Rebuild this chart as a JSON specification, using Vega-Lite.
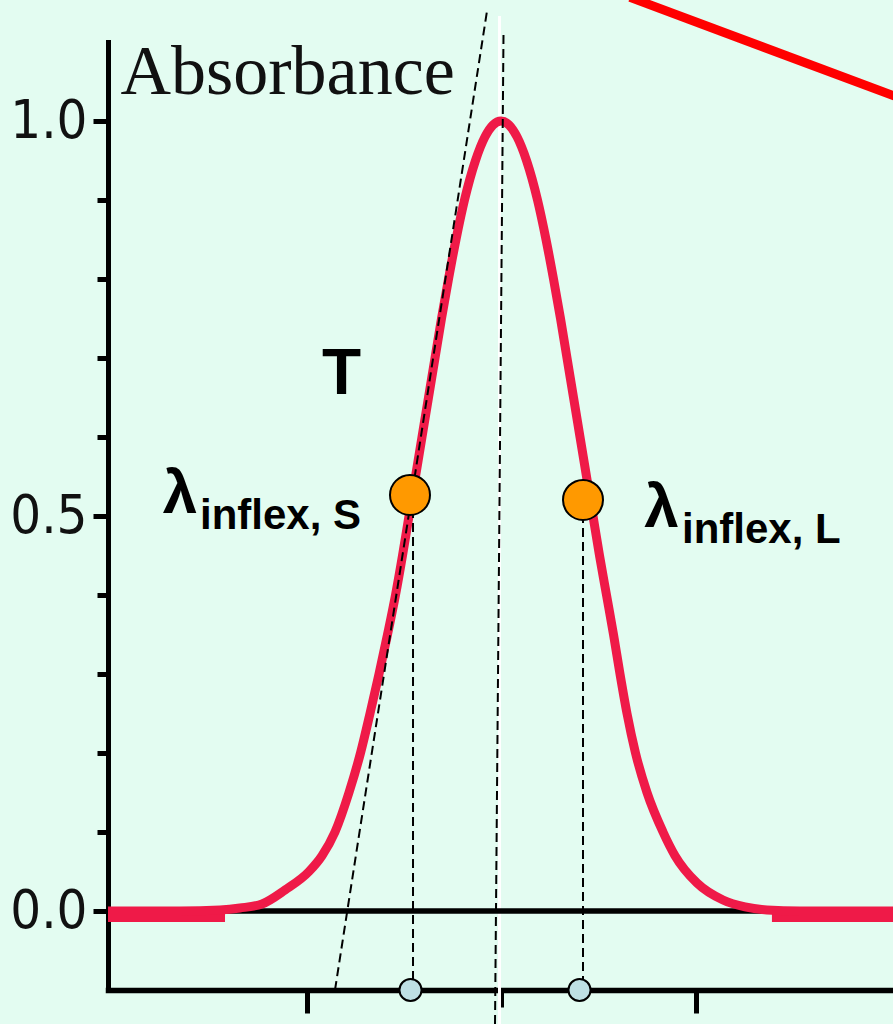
{
  "$schema": "https://vega.github.io/schema/vega-lite/v6.json",
  "width": 785,
  "height": 948,
  "autosize": {"type": "none"},
  "padding": {"left": 108, "top": 42, "right": 0, "bottom": 34},
  "background": "#e3fcf1",
  "config": {"view": {"stroke": null}},
  "datasets": {
    "curve": [
      {"x": -2.0206, "y": 0}, {"x": -1.6504, "y": 0}, {"x": -1.4447, "y": 0.0013},
      {"x": -1.3419, "y": 0.0038}, {"x": -1.2288, "y": 0.0089}, {"x": -1.1105, "y": 0.0266},
      {"x": -0.9871, "y": 0.05}, {"x": -0.9203, "y": 0.07},
      {"x": -0.8535, "y": 0.1}, {"x": -0.7815, "y": 0.15}, {"x": -0.7224, "y": 0.2},
      {"x": -0.6735, "y": 0.25}, {"x": -0.6272, "y": 0.3}, {"x": -0.5835, "y": 0.35},
      {"x": -0.5424, "y": 0.4}, {"x": -0.5064, "y": 0.45}, {"x": -0.473, "y": 0.5},
      {"x": -0.4396, "y": 0.55}, {"x": -0.4062, "y": 0.6}, {"x": -0.3728, "y": 0.65},
      {"x": -0.3393, "y": 0.7}, {"x": -0.3059, "y": 0.75}, {"x": -0.2699, "y": 0.8},
      {"x": -0.2314, "y": 0.85}, {"x": -0.1877, "y": 0.9}, {"x": -0.1311, "y": 0.95},
      {"x": -0.0823, "y": 0.98}, {"x": -0.0411, "y": 0.995}, {"x": 0, "y": 1.0},
      {"x": 0.0411, "y": 0.995}, {"x": 0.0823, "y": 0.98}, {"x": 0.1311, "y": 0.95},
      {"x": 0.1877, "y": 0.9}, {"x": 0.2314, "y": 0.85}, {"x": 0.2699, "y": 0.8},
      {"x": 0.3059, "y": 0.75}, {"x": 0.3393, "y": 0.7}, {"x": 0.3728, "y": 0.65},
      {"x": 0.4062, "y": 0.6}, {"x": 0.4396, "y": 0.55}, {"x": 0.473, "y": 0.5},
      {"x": 0.5064, "y": 0.45}, {"x": 0.5424, "y": 0.4}, {"x": 0.5784, "y": 0.35},
      {"x": 0.6118, "y": 0.3}, {"x": 0.6478, "y": 0.25}, {"x": 0.6915, "y": 0.2},
      {"x": 0.7506, "y": 0.15}, {"x": 0.8329, "y": 0.1}, {"x": 0.8946, "y": 0.07},
      {"x": 1.0077, "y": 0.0354}, {"x": 1.1414, "y": 0.0139}, {"x": 1.2545, "y": 0.0051},
      {"x": 1.3676, "y": 0.0013}, {"x": 1.5373, "y": 0}, {"x": 2.0154, "y": 0}
    ],
    "tails": [
      {"id": "L", "x": -2.0206, "y": -0.009}, {"id": "L", "x": -1.419, "y": -0.009},
      {"id": "R", "x": 1.393, "y": -0.009}, {"id": "R", "x": 2.0154, "y": -0.009}
    ],
    "baseline": [{"x": -2.0206, "y": 0}, {"x": 2.0154, "y": 0}],
    "white": [{"x": -0.0077, "y": 1.1329}, {"x": -0.0077, "y": -0.15}],
    "dashes": [
      {"id": "t", "x": -0.072, "y": 1.1392}, {"id": "t", "x": -0.8535, "y": -0.1},
      {"id": "m", "x": 0.0129, "y": 1.1114}, {"id": "m", "x": -0.0308, "y": -0.143},
      {"id": "l", "x": -0.4524, "y": 0.5266}, {"id": "l", "x": -0.4524, "y": -0.1},
      {"id": "r", "x": 0.4216, "y": 0.5203}, {"id": "r", "x": 0.4216, "y": -0.1}
    ],
    "redline": [{"x": 0.6632, "y": 1.1565}, {"x": 2.0514, "y": 1.029}],
    "orange": [{"x": -0.4679, "y": 0.5266}, {"x": 0.4216, "y": 0.5203}],
    "blue": [{"x": -0.4653, "y": -0.1}, {"x": 0.4036, "y": -0.1}],
    "tlabel": [{"x": -0.8201, "y": 0.6544, "t": "T"}],
    "lambda": [{"x": -1.6504, "y": 0.5038, "t": "λ"}, {"x": 0.8252, "y": 0.4861, "t": "λ"}],
    "subs": [{"x": -1.5476, "y": 0.4835, "t": "inflex, S"}, {"x": 0.9306, "y": 0.4658, "t": "inflex, L"}]
  },
  "encoding": {
    "x": {
      "field": "x", "type": "quantitative",
      "scale": {"domain": [-2.0206, 2.0154], "nice": false, "zero": false},
      "axis": {
        "values": [-1, 0, 1], "labels": false, "title": null, "grid": false,
        "domainColor": "#000", "domainWidth": 5.5, "domainCap": "square",
        "tickColor": "#000", "tickWidth": 5,
        "tickSize": {"condition": {"test": "datum.value == 0", "value": 17}, "value": 23}
      }
    },
    "y": {
      "field": "y", "type": "quantitative",
      "scale": {"domain": [-0.1, 1.1], "nice": false, "zero": false},
      "axis": {
        "values": [0, 0.1, 0.2, 0.3, 0.4, 0.5, 0.6, 0.7, 0.8, 0.9, 1.0],
        "grid": false,
        "domainColor": "#000", "domainWidth": 5, "domainCap": "square",
        "tickColor": "#000", "tickWidth": 5,
        "tickSize": {"condition": {"test": "datum.value < 0.01 || abs(datum.value - 0.5) < 0.01 || datum.value > 0.99", "value": 15}, "value": 11},
        "labelExpr": "datum.value < 0.01 || abs(datum.value - 0.5) < 0.01 || datum.value > 0.99 ? format(datum.value, '.1f') : ''",
        "labelFont": "'DejaVu Sans Condensed', 'Liberation Sans Narrow', sans-serif",
        "labelFontSize": 54, "labelColor": "#111", "labelPadding": 6,
        "labelBaseline": "middle",
        "title": "Absorbance", "titleAngle": 0, "titleAlign": "left", "titleBaseline": "alphabetic",
        "titleX": 12, "titleY": 51, "titleFont": "Liberation Serif", "titleFontSize": 70,
        "titleFontWeight": "normal", "titleColor": "#111"
      }
    }
  },
  "layer": [
    {"data": {"name": "white"}, "mark": {"type": "line", "color": "#ffffff", "strokeWidth": 3}},
    {"data": {"name": "baseline"}, "mark": {"type": "line", "color": "#000000", "strokeWidth": 5.5}},
    {"data": {"name": "tails"}, "mark": {"type": "line", "color": "#ef1a48", "strokeWidth": 8}, "encoding": {"detail": {"field": "id"}}},
    {"data": {"name": "curve"}, "mark": {"type": "line", "color": "#ef1a48", "strokeWidth": 9, "interpolate": "monotone"}},
    {"data": {"name": "dashes"}, "mark": {"type": "line", "color": "#000000", "strokeWidth": 2, "strokeDash": [9, 5]}, "encoding": {"detail": {"field": "id"}}},
    {"data": {"name": "redline"}, "mark": {"type": "line", "color": "#ff0000", "strokeWidth": 9}},
    {"data": {"name": "orange"}, "mark": {"type": "circle", "size": 1600, "fill": "#ff9900", "stroke": "#000000", "strokeWidth": 2, "opacity": 1}},
    {"data": {"name": "blue"}, "mark": {"type": "circle", "size": 490, "fill": "#bee0e4", "stroke": "#000000", "strokeWidth": 2, "opacity": 1}},
    {"data": {"name": "tlabel"}, "mark": {"type": "text", "font": "Liberation Sans", "fontWeight": "bold", "fontSize": 64, "align": "center", "baseline": "alphabetic", "color": "#000"}, "encoding": {"text": {"field": "t"}}},
    {"data": {"name": "lambda"}, "mark": {"type": "text", "font": "Liberation Sans", "fontWeight": "bold", "fontSize": 62, "align": "center", "baseline": "alphabetic", "color": "#000"}, "encoding": {"text": {"field": "t"}}},
    {"data": {"name": "subs"}, "mark": {"type": "text", "font": "Liberation Sans", "fontWeight": "bold", "fontSize": 42, "align": "left", "baseline": "alphabetic", "color": "#000"}, "encoding": {"text": {"field": "t"}}}
  ]
}
